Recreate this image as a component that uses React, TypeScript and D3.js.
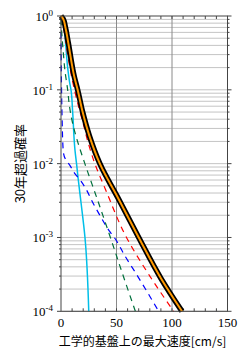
import React, { useEffect, useRef } from 'react';
import * as d3 from 'd3';

// [speed cm/s, exceedance probability in 30 years]
const totalCurve: [number, number][] = [
  [0, 1.0], [2, 0.91], [4, 0.7], [6.6, 0.43], [12, 0.15], [15, 0.1], [19.5, 0.05],
  [25.5, 0.024], [35, 0.01], [52, 0.0033], [70, 0.001], [90, 0.00028], [109, 0.0001],
];
const redCurve: [number, number][] = [
  [0, 1.0], [1, 0.88], [3, 0.6], [6, 0.3], [10, 0.14], [14.7, 0.069], [20, 0.035],
  [25, 0.018], [30.5, 0.01], [40, 0.0045], [59, 0.001], [80, 0.0003], [101.5, 0.0001],
];
const greenCurve: [number, number][] = [
  [0, 0.9], [1, 0.5], [2, 0.33], [3.6, 0.18], [6, 0.1], [7.5, 0.062], [10.5, 0.035],
  [14.5, 0.021], [21.5, 0.01], [33, 0.0032], [44.5, 0.001], [55.5, 0.00032], [67, 0.0001],
];
const blueCurve: [number, number][] = [
  [0, 0.6], [0.5, 0.1], [1, 0.04], [2, 0.015], [4, 0.0115], [8, 0.0095], [12, 0.0075],
  [18, 0.0058], [23, 0.0044], [28, 0.0031], [35, 0.002], [44, 0.0012], [48, 0.001],
  [58, 0.00055], [69, 0.0003], [88, 0.0001],
];
const cyanCurve: [number, number][] = [
  [0, 1.0], [2, 0.8], [4, 0.45], [6, 0.2], [8, 0.12], [9, 0.1], [10.5, 0.05],
  [12.6, 0.0152], [14, 0.01], [15.6, 0.006], [18, 0.003], [21.6, 0.001], [25, 0.0001],
];

const xTicks = [0, 50, 100, 150];
const yExponents = [0, -1, -2, -3, -4];
const xTitle = '工学的基盤上の最大速度[cm/s]';
const yTitle = '30年超過確率';

export default function App() {
  const svgRef = useRef<SVGSVGElement>(null);

  useEffect(() => {
    if (!svgRef.current) return;
    const svg = d3.select(svgRef.current);
    svg.selectAll('*').remove();

    const left = 61, right = 227.5, top = 16, bottom = 311.3;
    const x = d3.scaleLinear().domain([0, 150]).range([left, right]);
    const y = d3.scaleLog().domain([1e-4, 1]).range([bottom, top]);
    const serif = '"Liberation Serif", "DejaVu Serif", serif';
    const cjk = '"Noto Sans CJK JP", sans-serif';

    const g = svg.append('g');

    // horizontal grid at every 1..9 x decade
    const minorP: number[] = [];
    for (let e = -4; e < 0; e++) {
      for (let m = 1; m <= 9; m++) minorP.push(m * Math.pow(10, e));
    }
    g.selectAll('line.hgrid')
      .data(minorP)
      .enter()
      .append('line')
      .attr('x1', left).attr('x2', right)
      .attr('y1', d => y(d)).attr('y2', d => y(d))
      .attr('stroke', '#c4c4c4')
      .attr('stroke-width', 1);

    // vertical grid
    g.selectAll('line.vgrid')
      .data([50, 100])
      .enter()
      .append('line')
      .attr('x1', d => x(d)).attr('x2', d => x(d))
      .attr('y1', top).attr('y2', bottom)
      .attr('stroke', '#8a8a8a')
      .attr('stroke-width', 1);

    // ticks top/bottom every 10
    const xMinor = d3.range(10, 150, 10);
    xMinor.forEach(v => {
      g.append('line').attr('x1', x(v)).attr('x2', x(v)).attr('y1', top).attr('y2', top + 3)
        .attr('stroke', '#444');
      g.append('line').attr('x1', x(v)).attr('x2', x(v)).attr('y1', bottom).attr('y2', bottom - 3)
        .attr('stroke', '#444');
    });
    // ticks left/right
    minorP.concat([1]).forEach(p => {
      const major = Math.abs(Math.log10(p) - Math.round(Math.log10(p))) < 1e-9;
      const len = major ? 4 : 2;
      g.append('line').attr('x1', left - len).attr('x2', left).attr('y1', y(p)).attr('y2', y(p))
        .attr('stroke', '#444');
      g.append('line').attr('x1', right).attr('x2', right + len).attr('y1', y(p)).attr('y2', y(p))
        .attr('stroke', '#444');
    });

    // curves
    const line = d3.line<[number, number]>()
      .x(d => x(d[0]))
      .y(d => y(d[1]))
      .curve(d3.curveMonotoneY);

    const dashed = [
      { data: blueCurve, color: '#0000ff' },
      { data: greenCurve, color: '#00703c' },
      { data: redCurve, color: '#ff0000' },
    ];

    g.append('path').attr('d', line(cyanCurve)).attr('fill', 'none')
      .attr('stroke', '#00bfe8').attr('stroke-width', 1.5);

    dashed.forEach(s => {
      g.append('path').attr('d', line(s.data)).attr('fill', 'none')
        .attr('stroke', s.color).attr('stroke-width', 1.2)
        .attr('stroke-dasharray', '6,5');
    });

    g.append('path').attr('d', line(totalCurve)).attr('fill', 'none')
      .attr('stroke', '#000').attr('stroke-width', 5.5).attr('stroke-linejoin', 'round');
    g.append('path').attr('d', line(totalCurve)).attr('fill', 'none')
      .attr('stroke', '#ff9900').attr('stroke-width', 2);

    // frame
    g.append('rect').attr('x', left).attr('y', top)
      .attr('width', right - left).attr('height', bottom - top)
      .attr('fill', 'none').attr('stroke', '#444').attr('stroke-width', 1);

    // x tick labels
    g.selectAll('text.xt')
      .data(xTicks)
      .enter()
      .append('text')
      .attr('x', d => x(d))
      .attr('y', 327)
      .attr('text-anchor', 'middle')
      .style('font-family', serif)
      .style('font-size', '13px')
      .text(d => String(d));

    // y tick labels 10^n
    yExponents.forEach(e => {
      const t = g.append('text')
        .attr('x', 53)
        .attr('y', y(Math.pow(10, e)) + 5)
        .attr('text-anchor', 'end')
        .style('font-family', serif)
        .style('font-size', '13px');
      t.append('tspan').text('10');
      t.append('tspan').attr('dy', -5).style('font-size', '9px').text(String(e));
    });

    // axis titles
    g.append('text')
      .attr('x', 142.5)
      .attr('y', 346)
      .attr('text-anchor', 'middle')
      .style('font-family', cjk)
      .style('font-size', '12px')
      .text(xTitle);

    g.append('text')
      .attr('transform', `translate(25, ${(top + bottom) / 2}) rotate(-90)`)
      .attr('text-anchor', 'middle')
      .style('font-family', cjk)
      .style('font-size', '13px')
      .text(yTitle);
  }, []);

  return (
    <svg
      ref={svgRef}
      width={247}
      height={357}
      style={{ position: 'absolute', left: 0, top: 0, background: '#fff' }}
    />
  );
}
